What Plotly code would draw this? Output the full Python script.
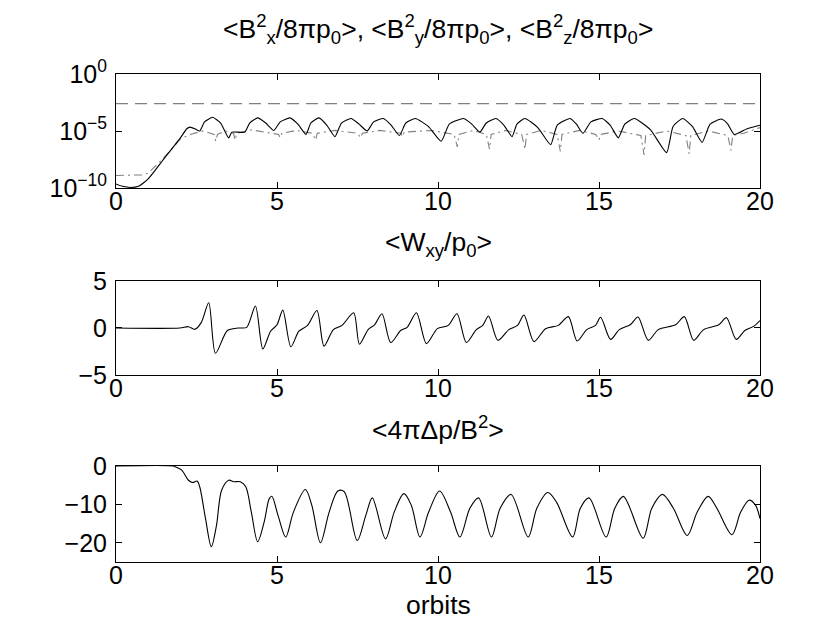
import plotly.graph_objects as go

# ---------------- data ----------------
# top panel: log10 of magnetic energies (solid = By^2, dash-dot = Bx^2, dashed = Bz^2)
by_x = [0, 0.2, 0.45, 0.7, 1.0, 1.5, 2.0, 2.2, 2.3, 2.45, 2.6, 2.75, 3.0, 3.25, 3.5, 3.6, 4.0, 4.15,
        4.4, 4.65, 4.9, 5.1, 5.4, 5.65, 5.9, 6.05, 6.3, 6.55, 6.8, 7.0, 7.3, 7.55, 7.8, 8.0, 8.3, 8.55,
        8.8, 9.0, 9.3, 9.7, 10.1, 10.35, 10.8, 11.05, 11.3, 11.5, 11.8, 12.05, 12.3, 12.45, 12.7, 13.1,
        13.5, 13.7, 14.1, 14.3, 14.5, 14.75, 15.1, 15.35, 15.6, 15.8, 16.1, 16.6, 17.1, 17.3, 17.6,
        17.9, 18.2, 18.45, 18.8, 19.0, 19.2, 19.6, 20]
by_log10 = [-9.64, -9.85, -9.95, -9.85, -9.2, -7.4, -5.6, -4.8, -4.66, -4.8, -5.0, -4.2, -3.8, -4.3,
            -5.6, -5.1, -5.1, -4.3, -3.85, -4.3, -4.95, -4.2, -3.85, -4.4, -5.3, -4.3, -3.85, -4.5,
            -5.5, -4.3, -3.9, -4.4, -5.0, -4.2, -3.9, -4.5, -5.4, -4.3, -3.9, -4.6, -5.9, -4.4, -3.9,
            -4.4, -5.1, -4.3, -3.9, -4.5, -5.5, -4.4, -3.9, -4.7, -6.2, -4.5, -3.9, -4.4, -5.2, -4.2,
            -3.9, -4.5, -5.6, -4.4, -3.9, -4.9, -6.9, -4.6, -3.9, -4.6, -6.0, -4.4, -3.95, -4.4, -5.3,
            -4.8, -4.5]

bx_x = [0, 0.5, 0.8, 1.0, 1.5, 2.0, 2.3, 2.7, 3.05, 3.1, 3.15, 3.4, 3.65, 3.7, 3.75, 4.2, 4.7, 5.05, 5.1,
        5.15, 5.6, 6.1, 6.2, 6.25, 6.8, 7.5, 7.6, 7.65, 8.2, 8.85, 8.9, 8.95, 9.8, 10.5, 10.6, 10.65,
        11.1, 11.5, 11.6, 11.65, 12.1, 12.6, 12.7, 12.75, 13.2, 13.7, 13.8, 13.85, 14.4, 14.9, 15.0,
        15.05, 15.6, 16.3, 16.4, 16.45, 17.1, 17.7, 17.8, 17.85, 18.4, 19.0, 19.1, 19.15, 19.5, 20]
bx_log10 = [-8.9, -8.9, -8.85, -8.7, -7.3, -5.7, -5.3, -5.0, -5.3, -5.9, -5.3, -5.0, -5.2, -5.8, -5.2,
            -4.9, -5.1, -5.3, -5.6, -5.2, -4.95, -5.2, -5.8, -5.2, -4.95, -5.2, -5.6, -5.2, -4.95, -5.2,
            -5.5, -5.1, -4.95, -5.3, -6.4, -5.3, -4.95, -5.3, -6.6, -5.3, -4.95, -5.3, -6.6, -5.3, -4.95,
            -5.3, -6.8, -5.3, -4.95, -5.3, -5.8, -5.3, -5.0, -5.4, -7.1, -5.4, -5.0, -5.4, -7.0, -5.4,
            -5.0, -5.4, -6.7, -5.4, -5.2, -4.7]

bz_x = [0, 20]
bz_log10 = [-2.6, -2.6]

# middle panel: <Wxy/p0>
w_x = [0, 1.98, 2.25, 2.45, 2.65, 2.88, 3.09, 3.46, 3.8, 4.06, 4.33, 4.56, 4.8, 5.0, 5.18, 5.43, 5.68,
       5.95, 6.24, 6.46, 6.75, 7.02, 7.38, 7.56, 7.83, 8.03, 8.26, 8.53, 8.84, 9.04, 9.33, 9.64, 9.98,
       10.32, 10.59, 10.88, 11.19, 11.39, 11.57, 11.86, 12.2, 12.47, 12.67, 12.98, 13.34, 13.74, 14.05,
       14.32, 14.62, 14.89, 15.05, 15.36, 15.63, 15.97, 16.21, 16.53, 16.84, 17.38, 17.65, 17.94,
       18.25, 18.72, 18.96, 19.26, 19.53, 19.8, 20]
w_val = [0, 0, 0.14, -0.14, 0.6, 2.69, -2.69, -0.27, 0, 0.07, 2.34, -2.24, -0.34, 0.34, 1.9, -2.0, -0.34,
         0.28, 1.86, -1.93, -0.17, 0.28, 1.62, -1.72, -0.17, 0.34, 1.52, -1.55, -0.27, 0.07, 1.62, -1.66,
         -0.07, 0.28, 1.52, -1.55, -0.17, 0.28, 1.28, -1.31, -0.17, 0.28, 1.38, -1.45, -0.07, 0.28, 1.21,
         -1.38, -0.17, 0.28, 1.14, -1.21, -0.17, 0.34, 1.17, -1.31, -0.17, 0.34, 1.21, -1.31, -0.17, 0.34,
         1.10, -1.21, -0.27, 0.17, 0.79]

# bottom panel: <4 pi dp / B^2>
p_x = [0, 1.78, 1.84, 2.04, 2.25, 2.38, 2.52, 2.6, 2.78, 2.96, 3.12, 3.28, 3.5, 3.66, 3.86, 4.03, 4.2,
       4.4, 4.6, 4.76, 4.84, 5.03, 5.27, 5.51, 5.88, 6.08, 6.35, 6.62, 6.89, 7.09, 7.49, 7.76, 7.96,
       8.37, 8.64, 8.94, 9.17, 9.44, 9.71, 10.05, 10.39, 10.68, 10.99, 11.26, 11.66, 11.93, 12.27, 12.8,
       13.07, 13.41, 13.68, 14.18, 14.42, 14.69, 15.22, 15.49, 15.76, 16.37, 16.64, 16.97, 17.31, 17.74,
       18.05, 18.39, 18.66, 19.13, 19.4, 19.66, 19.86, 20]
p_val = [0, 0, -0.2, -1.05, -3.7, -4.3, -3.9, -5.4, -13.7, -21.0, -15.5, -6.3, -3.7, -4.1, -4.1, -5.4,
         -11.9, -19.7, -14.6, -8.5, -7.9, -12.8, -18.5, -12.0, -6.1, -10.2, -20.0, -12.0, -6.5, -6.7,
         -19.4, -12.8, -8.3, -19.0, -12.0, -7.2, -10.2, -18.5, -12.0, -6.5, -12.0, -18.5, -11.0, -8.3,
         -18.5, -11.0, -7.4, -18.5, -11.0, -6.9, -9.4, -18.5, -11.0, -8.3, -18.5, -11.0, -7.9, -18.8,
         -11.0, -7.4, -11.0, -18.1, -12.0, -7.9, -11.0, -17.9, -12.0, -8.9, -10.2, -13.7]

x_ticks = [0, 5, 10, 15, 20]
top_tickvals = [1e-10, 1e-5, 1]
top_ticktext = ["10<sup>\u221210</sup>", "10<sup>\u22125</sup>", "10<sup>0</sup>"]
mid_ticks = [-5, 0, 5]
mid_ticktext = ["\u22125", "0", "5"]
bot_ticks = [-20, -10, 0]
bot_ticktext = ["\u221220", "\u221210", "0"]

# ---------------- figure ----------------
FONT = "Liberation Sans, Arial, Helvetica, sans-serif"
FS = 25      # tick labels
TFS = 26.5   # titles / axis label
fig = go.Figure()

fig.add_trace(go.Scatter(x=bz_x, y=[10 ** v for v in bz_log10], mode="lines",
                         line=dict(color="#808080", width=1.3, dash="12px,7px"),
                         xaxis="x", yaxis="y", showlegend=False))
fig.add_trace(go.Scatter(x=bx_x, y=[10 ** v for v in bx_log10], mode="lines",
                         line=dict(color="#808080", width=1.1, dash="8px,4px,2px,4px"),
                         xaxis="x", yaxis="y", showlegend=False))
fig.add_trace(go.Scatter(x=by_x, y=[10 ** v for v in by_log10], mode="lines",
                         line=dict(color="black", width=1.1, shape="spline", smoothing=0.5),
                         xaxis="x", yaxis="y", showlegend=False))
fig.add_trace(go.Scatter(x=w_x, y=w_val, mode="lines",
                         line=dict(color="black", width=1.1, shape="spline", smoothing=0.8),
                         xaxis="x2", yaxis="y2", showlegend=False))
fig.add_trace(go.Scatter(x=p_x, y=p_val, mode="lines",
                         line=dict(color="black", width=1.1, shape="spline", smoothing=0.9),
                         xaxis="x3", yaxis="y3", showlegend=False))

ax_common = dict(showline=True, linecolor="black", linewidth=1, mirror="ticks",
                 ticks="inside", ticklen=6, tickcolor="black", showgrid=False, zeroline=False,
                 tickfont=dict(family=FONT, size=FS, color="black"))

xcommon = dict(ax_common, range=[0, 20], tickvals=x_ticks, ticklabelstandoff=-9)
ycommon = dict(ax_common, ticklabelstandoff=3)
fig.update_layout(
    xaxis=dict(xcommon, domain=[0, 1], anchor="y"),
    xaxis2=dict(xcommon, domain=[0, 1], anchor="y2"),
    xaxis3=dict(xcommon, domain=[0, 1], anchor="y3"),
    yaxis=dict(ycommon, type="log", range=[-10, 0], tickvals=top_tickvals, ticktext=top_ticktext,
               domain=[0.7664, 1.0], anchor="x"),
    yaxis2=dict(ycommon, range=[-5, 5], tickvals=mid_ticks, ticktext=mid_ticktext,
                domain=[0.3832, 0.5758], anchor="x2"),
    yaxis3=dict(ycommon, range=[-25, 0], tickvals=bot_ticks, ticktext=bot_ticktext,
                domain=[0, 0.1967], anchor="x3"),
    width=830, height=625,
    margin=dict(l=108, r=78, t=66, b=71, autoexpand=False),
    paper_bgcolor="white", plot_bgcolor="white",
    font=dict(family=FONT, size=FS, color="black"),
)

def ypix(p):
    return (554 - p) / 488.0

titles = [
    ("&lt;B<sup>2</sup><sub>x</sub>/8\u03c0p<sub>0</sub>&gt;, &lt;B<sup>2</sup><sub>y</sub>/8\u03c0p<sub>0</sub>&gt;, "
     "&lt;B<sup>2</sup><sub>z</sub>/8\u03c0p<sub>0</sub>&gt;", 21),
    ("&lt;W<sub>xy</sub>/p<sub>0</sub>&gt;", 236),
    ("&lt;4\u03c0\u0394p/B<sup>2</sup>&gt;", 420),
    ("orbits", 597),
]
for txt, yp in titles:
    fig.add_annotation(text=txt, x=0.5, y=ypix(yp), xref="paper", yref="paper",
                       xanchor="center", yanchor="middle", showarrow=False,
                       font=dict(family=FONT, size=TFS, color="black"))

fig.write_html("out.html")
